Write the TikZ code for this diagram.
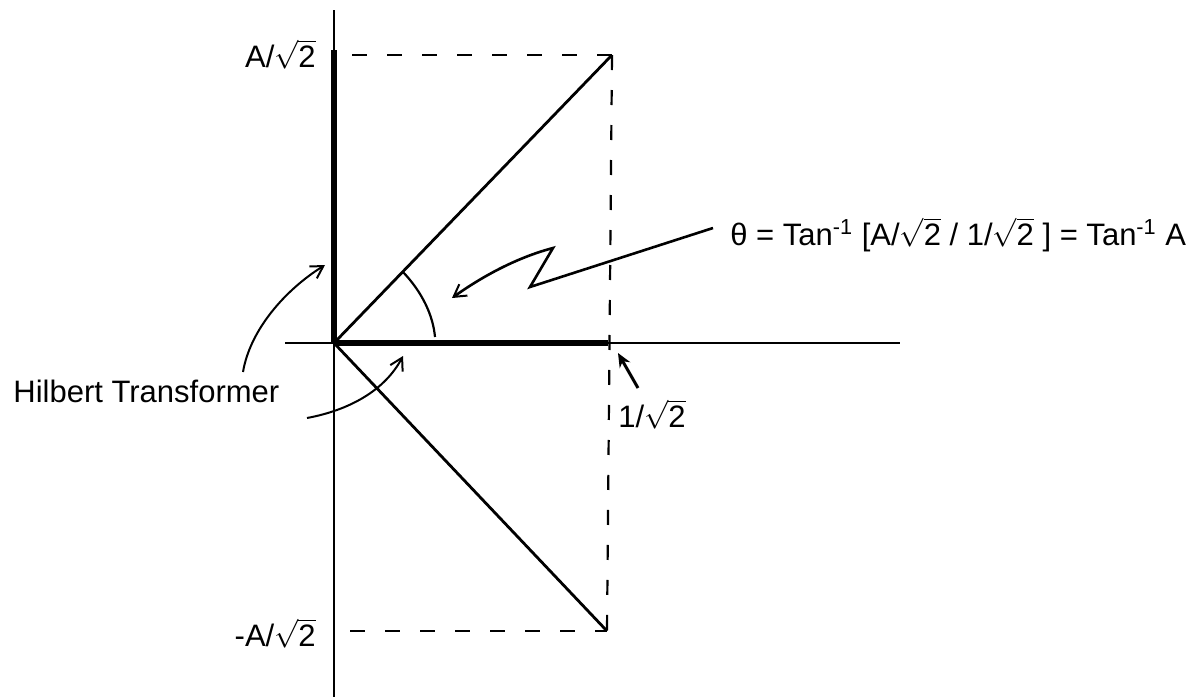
\documentclass[tikz,border=0pt]{standalone}
\usepackage{fontspec}
\setmainfont{Liberation Sans}
\usetikzlibrary{arrows.meta}
\newcommand\rtwo{$\sqrt{\mbox{2}}$}
\begin{document}
\begin{tikzpicture}[x=0.5pt,y=-0.5pt,
  lbl/.style={inner sep=0pt,font=\fontsize{15.5}{18}\selectfont},
  axis/.style={line width=1.2pt},
  thick line/.style={line width=2.8pt},
  diag/.style={line width=1.4pt},
  guide/.style={line width=1.1pt,dash pattern=on 7.5pt off 10pt},
  pointer/.style={line width=1pt,-{Straight Barb[length=6pt,width=7pt,line width=1pt]}}]
\useasboundingbox (0,0) rectangle (1199,697);
% key points
\coordinate (O) at (334,343);
\coordinate (ytop) at (334,10);
\coordinate (ybot) at (334,697);
\coordinate (xl) at (285,343);
\coordinate (xr) at (900,343);
\coordinate (Ya) at (334,50);
\coordinate (Xa) at (608,343);
\coordinate (P) at (612,55);
\coordinate (Q) at (607,631);
\coordinate (Tl) at (352,55);
\coordinate (Bl) at (350,631);
% axes
\draw[axis] (ytop) -- (ybot);
\draw[axis] (xl) -- (xr);
\draw[thick line] (Ya) -- (O);
\draw[thick line] (O) -- (Xa);
% guides
\draw[guide] (Tl) -- (P);
\draw[guide] (P) -- (Q);
\draw[guide] (Bl) -- (Q);
% diagonals
\draw[diag] (O) -- (P);
\draw[diag] (O) -- (Q);
% angle arc
\coordinate (a1) at (403,272);
\coordinate (a2) at (435,337);
\draw[line width=1.1pt] (a1) .. controls (422,292) and (433,315) .. (a2);
% labels
\node[lbl,anchor=base east] (ltop) at (316,67) {A/\rtwo};
\node[lbl,anchor=base east] (lbot) at (316,646) {-A/\rtwo};
\node[lbl,anchor=base west] (lx) at (618,427) {1/\rtwo};
\node[lbl,anchor=base west] (hil) at (13,402) {Hilbert Transformer};
\node[lbl,anchor=base west] (theta) at (730,245) {θ = Tan\textsuperscript{-1} [A/\rtwo{} / 1/\rtwo{} ] = Tan\textsuperscript{-1} A};
% theta zigzag arrow
\coordinate (z0) at (713,228);
\coordinate (z1) at (530,287);
\coordinate (z2) at (553,248);
\coordinate (z3) at (452,298);
\draw[pointer,line width=1.3pt] (z0) -- (z1) -- (z2) .. controls (515,258) and (480,278) .. (z3);
% Hilbert arrows
\coordinate (h1) at (243,372);
\coordinate (h1t) at (325,265);
\draw[pointer] (h1) .. controls (250,330) and (285,290) .. (h1t);
\coordinate (h2) at (307,418);
\coordinate (h2t) at (403,356);
\draw[pointer] (h2) .. controls (350,410) and (385,390) .. (h2t);
% 1/sqrt2 arrow
\coordinate (u0) at (638,388);
\coordinate (u1) at (618,353);
\draw[line width=1.5pt,-{Stealth[length=7pt,width=6pt]}] (u0) -- (u1);
\end{tikzpicture}
\end{document}
